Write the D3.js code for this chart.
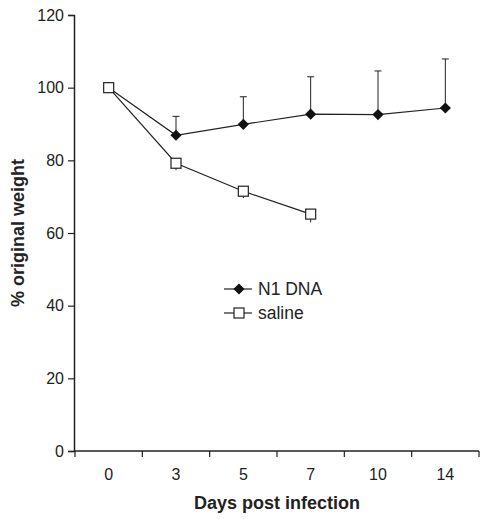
<!DOCTYPE html>
<html>
<head>
<meta charset="utf-8">
<script src="https://cdn.jsdelivr.net/npm/d3@7"></script>
<style>
  body { margin: 0; background: #fff; }
  svg text { font-family: "Liberation Sans", Arial, sans-serif; fill: #222; }
</style>
</head>
<body>
<div id="chart"></div>
<script>
const days = ["0", "3", "5", "7", "10", "14"];
const dnaMean = [100, 86.9, 89.9, 92.7, 92.6, 94.4];
const dnaErr = [0, 5.2, 7.6, 10.3, 12.0, 13.5];
const salineDays = ["0", "3", "5", "7"];
const salineMean = [100, 79.2, 71.5, 65.2];
const salineErr = [0, 0.8, 0.8, 1.2];
const yTicks = [0, 20, 40, 60, 80, 100, 120];

const width = 480, height = 519;
const margin = { top: 15, right: 1, bottom: 68, left: 74 };

const svg = d3.select("#chart").append("svg")
    .attr("width", width)
    .attr("height", height);

const x = d3.scaleBand()
    .domain(days)
    .range([margin.left + 1, width - margin.right]);

const y = d3.scaleLinear()
    .domain([0, 120])
    .range([height - margin.bottom, margin.top]);

const cx = d => x(d) + x.bandwidth() / 2;

// y axis
const yAxis = svg.append("g")
    .attr("transform", `translate(${margin.left},0)`)
    .call(d3.axisLeft(y).tickValues(yTicks).tickSize(6).tickPadding(4));
yAxis.select(".domain").attr("stroke", "#222").attr("stroke-width", 1.5);
yAxis.selectAll(".tick line").attr("stroke", "#222").attr("stroke-width", 1.2);
yAxis.selectAll(".tick text").style("font-size", "16px").attr("fill", "#222");

// x axis, ticks at category edges
const xg = svg.append("g")
    .attr("transform", `translate(0,${y(0)})`);
xg.append("line")
    .attr("x1", margin.left).attr("x2", width - margin.right)
    .attr("stroke", "#222").attr("stroke-width", 1.5);
const edges = days.map(d => x(d)).concat([x(days[days.length - 1]) + x.bandwidth()]);
xg.selectAll(".edge").data(edges).enter().append("line")
    .attr("x1", d => d).attr("x2", d => d)
    .attr("y1", 0).attr("y2", 6)
    .attr("stroke", "#222").attr("stroke-width", 1.2);
xg.selectAll(".lab").data(days).enter().append("text")
    .attr("x", d => cx(d)).attr("y", 29)
    .attr("text-anchor", "middle")
    .style("font-size", "16px")
    .text(d => d);

// axis titles
svg.append("text")
    .attr("x", 277).attr("y", 509)
    .attr("text-anchor", "middle")
    .style("font-size", "18px").style("font-weight", "bold")
    .text("Days post infection");
svg.append("text")
    .attr("transform", `translate(24,${y(60)}) rotate(-90)`)
    .attr("text-anchor", "middle")
    .style("font-size", "18px").style("font-weight", "bold")
    .text("% original weight");

// error bars for N1 DNA (upper only)
const dna = days.map((d, i) => ({ d, m: dnaMean[i], e: dnaErr[i] }));
const sal = salineDays.map((d, i) => ({ d, m: salineMean[i], e: salineErr[i] }));

svg.append("g").selectAll("g").data(dna.filter(p => p.e > 0)).enter().append("g")
    .each(function(p) {
        const g = d3.select(this);
        g.append("line").attr("x1", cx(p.d)).attr("x2", cx(p.d))
            .attr("y1", y(p.m)).attr("y2", y(p.m + p.e))
            .attr("stroke", "#222").attr("stroke-width", 1);
        g.append("line").attr("x1", cx(p.d) - 3.5).attr("x2", cx(p.d) + 3.5)
            .attr("y1", y(p.m + p.e)).attr("y2", y(p.m + p.e))
            .attr("stroke", "#222").attr("stroke-width", 1);
    });

svg.append("g").selectAll("line").data(sal.filter(p => p.e > 0)).enter().append("line")
    .attr("x1", p => cx(p.d)).attr("x2", p => cx(p.d))
    .attr("y1", p => y(p.m)).attr("y2", p => y(p.m - p.e) + 4)
    .attr("stroke", "#222").attr("stroke-width", 1);

const line = d3.line().x(p => cx(p.d)).y(p => y(p.m));

svg.append("path").datum(dna).attr("d", line)
    .attr("fill", "none").attr("stroke", "#222").attr("stroke-width", 1.2);
svg.append("path").datum(sal).attr("d", line)
    .attr("fill", "none").attr("stroke", "#222").attr("stroke-width", 1.2);

const diamond = d3.symbol().type(d3.symbolDiamond2).size(80);

svg.append("g").selectAll("path").data(dna).enter().append("path")
    .attr("d", diamond)
    .attr("transform", p => `translate(${cx(p.d)},${y(p.m)})`)
    .attr("fill", "#111");

svg.append("g").selectAll("rect").data(sal).enter().append("rect")
    .attr("x", p => cx(p.d) - 5).attr("y", p => y(p.m) - 5)
    .attr("width", 10).attr("height", 10)
    .attr("fill", "#fff").attr("stroke", "#222").attr("stroke-width", 1.2);

// legend
const legend = svg.append("g").attr("transform", "translate(224,289)");
legend.append("line").attr("x1", 0).attr("x2", 28).attr("y1", 0).attr("y2", 0)
    .attr("stroke", "#222").attr("stroke-width", 1.2);
legend.append("path").attr("d", diamond).attr("transform", "translate(15,0)")
    .attr("fill", "#111");
legend.append("text").attr("x", 34).attr("y", 6)
    .style("font-size", "17.5px").text("N1 DNA");
legend.append("line").attr("x1", 0).attr("x2", 28).attr("y1", 24).attr("y2", 24)
    .attr("stroke", "#222").attr("stroke-width", 1.2);
legend.append("rect").attr("x", 10).attr("y", 19).attr("width", 10).attr("height", 10)
    .attr("fill", "#fff").attr("stroke", "#222").attr("stroke-width", 1.2);
legend.append("text").attr("x", 34).attr("y", 30)
    .style("font-size", "17.5px").text("saline");
</script>
</body>
</html>
